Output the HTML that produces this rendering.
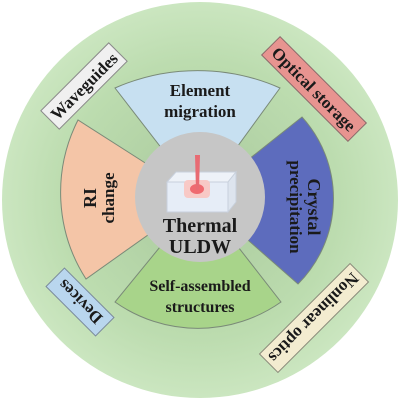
<!DOCTYPE html>
<html><head><meta charset="utf-8"><style>
html,body{margin:0;padding:0;background:#fff;}
svg{display:block;}
text{font-family:"Liberation Serif",serif;font-weight:bold;fill:#1a1a1a;}
</style></head><body>
<svg width="400" height="401" viewBox="0 0 400 401">
<defs>
<radialGradient id="bg" cx="50%" cy="50%" r="50%">
<stop offset="0" stop-color="#a9c99c"/>
<stop offset="0.7" stop-color="#bcdcaf"/>
<stop offset="1" stop-color="#cbe6c0"/>
</radialGradient>
</defs>
<circle cx="200" cy="200" r="198" fill="url(#bg)"/>
<!-- sectors -->
<g stroke="#7a8a78" stroke-width="1">
<path d="M200,198 L115,88 A204,204 0 0 1 280,88 Z" fill="#c7e0f1"/>
<path d="M200,198 L78,120 A160,160 0 0 0 86,279 Z" fill="#f4c5a7"/>
<path d="M200,198 L302,117 A121,121 0 0 1 298,284 Z" fill="#5d6cbd"/>
<path d="M200,198 L115,302 A144,144 0 0 0 281,302 Z" fill="#a8d48a"/>
</g>
<circle cx="200" cy="197" r="65" fill="#c6c6c6"/>
<!-- cube -->
<polygon points="167,182 176,172 236,172 228,182" fill="#eef2f8" stroke="#c8d0dc"/>
<polygon points="228,182 236,172 236,202 228,212" fill="#dde4ee" stroke="#c8d0dc"/>
<rect x="167" y="182" width="61" height="30" fill="#e6edf7" stroke="#c8d0dc"/>
<rect x="184" y="180" width="26" height="18" rx="4" fill="#f8c9c6"/>
<ellipse cx="197" cy="189" rx="7" ry="5" fill="#ef6a70"/>
<polygon points="195,155 200,155 199,190 196,190" fill="#e86b73"/>
<text x="200" y="232" font-size="20" text-anchor="middle">Thermal</text>
<text x="200" y="253" font-size="20" text-anchor="middle">ULDW</text>
<text x="200" y="96" font-size="17" text-anchor="middle">Element</text>
<text x="200" y="117" font-size="17" text-anchor="middle">migration</text>
<text x="200" y="291" font-size="16" text-anchor="middle">Self-assembled</text>
<text x="200" y="312" font-size="16" text-anchor="middle">structures</text>
<g transform="translate(100,198) rotate(-90)">
<text x="0" y="-4" font-size="18" text-anchor="middle">RI</text>
<text x="0" y="14" font-size="17" text-anchor="middle">change</text>
</g>
<g transform="translate(298,207) rotate(90)">
<text x="0" y="-10" font-size="18" text-anchor="middle">Crystal</text>
<text x="0" y="8" font-size="17" text-anchor="middle">precipitation</text>
</g>
<!-- corner labels -->
<g transform="translate(84,86) rotate(-45)">
<rect x="-48" y="-13" width="96" height="26" fill="#f0f0f0" stroke="#8a8a8a"/>
<text x="0" y="6" font-size="17" text-anchor="middle">Waveguides</text>
</g>
<g transform="translate(314,89) rotate(45)">
<rect x="-61" y="-13" width="122" height="26" fill="#e79490" stroke="#8a6a6a"/>
<text x="0" y="6" font-size="17" text-anchor="middle">Optical storage</text>
</g>
<g transform="translate(80,302) rotate(-135)">
<rect x="-35" y="-13" width="70" height="26" fill="#b9d6ee" stroke="#7a8a9a"/>
<text x="0" y="6" font-size="17" text-anchor="middle">Devices</text>
</g>
<g transform="translate(314,318) rotate(135)">
<rect x="-64" y="-13" width="128" height="26" fill="#f3ecd0" stroke="#8a8a7a"/>
<text x="0" y="6" font-size="17" text-anchor="middle">Nonlinear optics</text>
</g>
</svg>
</body></html>
